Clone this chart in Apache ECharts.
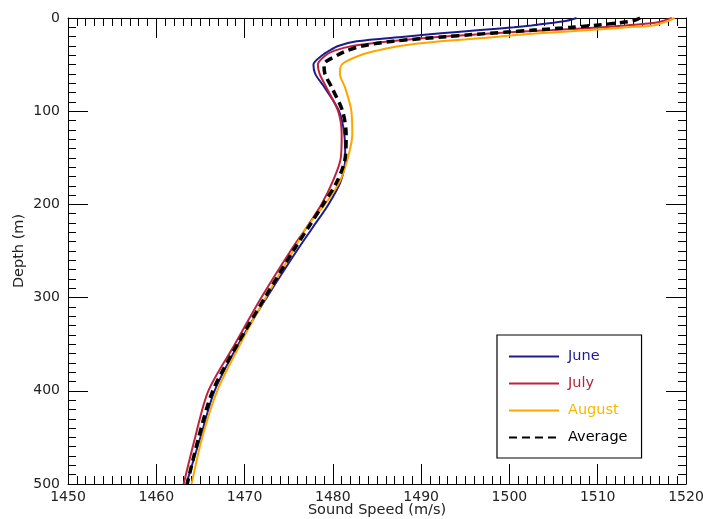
<!DOCTYPE html>
<html>
<head>
<meta charset="utf-8">
<script src="https://cdn.jsdelivr.net/npm/echarts@6/dist/echarts.min.js"></script>
<style>html,body{margin:0;padding:0;background:#fff;}#chart{width:703px;height:519px;}</style>
</head>
<body>
<div id="chart"></div>
<script>
const depths = [0, 3, 5, 8, 10, 13, 15, 18, 20, 25, 30, 35, 40, 50, 60, 75, 100, 125, 150, 175, 200, 225, 250, 300, 350, 400, 450, 500];
const june   = [1507.6,1506.5,1505.0,1502.5,1500.5,1496.7,1494.1,1490.4,1488.1,1482.7,1480.6,1479.6,1478.8,1477.8,1478.0,1479.1,1480.7,1481.3,1481.4,1480.9,1479.5,1477.7,1475.9,1472.5,1469.3,1466.6,1465.0,1463.4];
const july   = [1518.4,1517.5,1516.5,1513.2,1510.5,1504.8,1500.5,1495.8,1492.2,1486.5,1482.2,1480.2,1479.2,1478.3,1478.5,1479.3,1480.6,1481.0,1480.9,1480.0,1478.7,1477.0,1475.2,1471.9,1468.9,1465.9,1464.4,1463.1];
const august = [1518.7,1518.0,1517.4,1516.3,1513.3,1509.1,1505.7,1501.0,1498.8,1492.2,1487.6,1485.0,1483.1,1481.0,1480.8,1481.4,1482.1,1482.2,1481.7,1480.8,1479.1,1477.0,1475.5,1472.4,1469.5,1466.9,1465.2,1464.0];
const average= [1514.8,1514.0,1512.6,1509.5,1507.0,1502.8,1499.8,1495.5,1492.8,1486.8,1483.3,1481.6,1480.5,1479.0,1479.1,1479.9,1481.1,1481.5,1481.4,1480.5,1478.9,1477.2,1475.5,1472.3,1469.2,1466.4,1464.8,1463.5];
const seriesNames = ['June','July','August','Average'];
const xTicks = [1450,1460,1470,1480,1490,1500,1510,1520];
const yTicks = [0,100,200,300,400,500];

const pairs = arr => arr.map((v,i)=>[v, depths[i]]);
const FONT = 'DejaVu Sans';
const colors = {June:'#1c1c8f', July:'#c0213c', August:'#ffa500', Average:'#000000'};
const textColors = {June:'#1c1c8f', July:'#b0243c', August:'#f5b800', Average:'#000000'};

const tickCommon = {
  axisLine:{show:true, onZero:false, lineStyle:{color:'#000', width:1}},
  axisTick:{show:true, inside:true, length:20, lineStyle:{color:'#000', width:1}},
  minorTick:{show:true, splitNumber:10, length:8, lineStyle:{color:'#000', width:1}},
  splitLine:{show:false}
};
const plain = v => String(v);

const chart = echarts.init(document.getElementById('chart'), null, {renderer:'canvas'});
chart.setOption({
  animation:false,
  backgroundColor:'#fff',
  grid:{left:68, right:17, top:18, bottom:35, containLabel:false, outerBoundsMode:'none'},
  legend:{
    orient:'vertical', left:497, top:335, width:145,
    backgroundColor:'#fff', borderColor:'#000', borderWidth:1.2, borderRadius:0,
    padding:[14,14,13,11], itemGap:12, itemWidth:50, itemHeight:14,
    itemStyle:{opacity:0, color:'rgba(0,0,0,0)', borderWidth:0},
    textStyle:{fontFamily:FONT, fontSize:14.5, padding:[0,0,0,4]},
    data: seriesNames.map(n=>({name:n, textStyle:{color:textColors[n]}}))
  },
  xAxis:[
    Object.assign({type:'value', position:'bottom', min:xTicks[0], max:xTicks[xTicks.length-1], interval:10,
      name:'Sound Speed (m/s)', nameLocation:'middle', nameGap:19, nameMoveOverlap:false,
      nameTextStyle:{fontFamily:FONT, fontSize:14.5, color:'#222'},
      axisLabel:{fontFamily:FONT, fontSize:14, color:'#222', margin:6, formatter:plain}}, tickCommon),
    Object.assign({type:'value', position:'top', min:xTicks[0], max:xTicks[xTicks.length-1], interval:10,
      axisLabel:{show:false}}, tickCommon)
  ],
  yAxis:[
    Object.assign({type:'value', position:'left', inverse:true, min:yTicks[0], max:yTicks[yTicks.length-1], interval:100,
      name:'Depth (m)', nameLocation:'middle', nameGap:41, nameRotate:90, nameMoveOverlap:false,
      nameTextStyle:{fontFamily:FONT, fontSize:14.5, color:'#222'},
      axisLabel:{fontFamily:FONT, fontSize:14, color:'#222', margin:8, formatter:plain}}, tickCommon),
    Object.assign({type:'value', position:'right', inverse:true, min:yTicks[0], max:yTicks[yTicks.length-1], interval:100,
      axisLabel:{show:false}}, tickCommon)
  ],
  series:[
    {name:'June', type:'line', data:pairs(june), showSymbol:false, symbol:'none', smooth:0.3,
      lineStyle:{color:colors.June, width:2}, itemStyle:{color:colors.June}},
    {name:'July', type:'line', data:pairs(july), showSymbol:false, symbol:'none', smooth:0.3,
      lineStyle:{color:colors.July, width:2}, itemStyle:{color:colors.July}},
    {name:'August', type:'line', data:pairs(august), showSymbol:false, symbol:'none', smooth:0.3,
      lineStyle:{color:colors.August, width:2}, itemStyle:{color:colors.August}},
    {name:'Average', type:'line', data:pairs(average), showSymbol:false, symbol:'none', smooth:0.3,
      lineStyle:{color:colors.Average, width:3.5, type:[8,5]}, itemStyle:{color:colors.Average}}
  ]
});
</script>
</body>
</html>
